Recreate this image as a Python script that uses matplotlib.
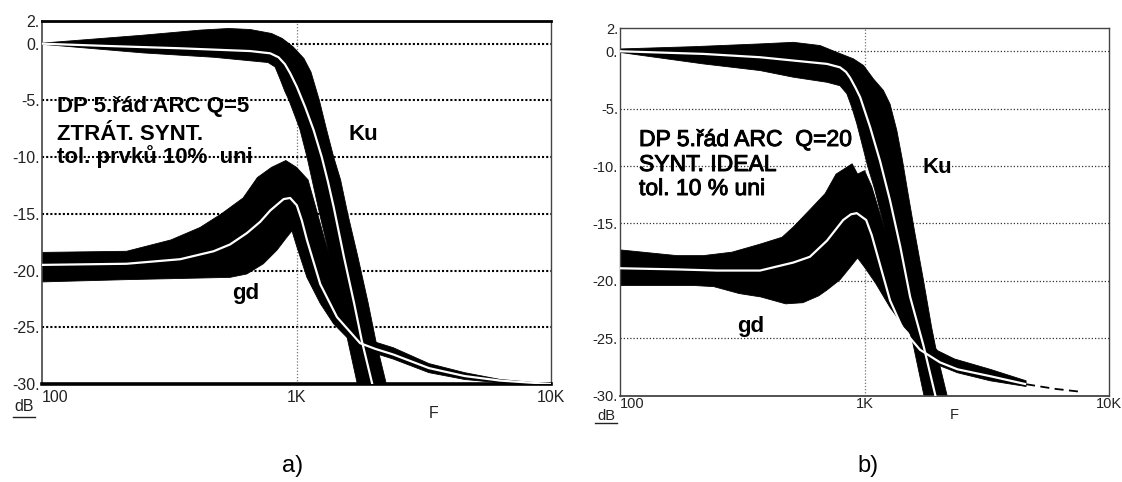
"""
Monte Carlo tolerance analysis of a 5th-order ARC low-pass (DP 5.řád):
magnitude Ku and group delay gd bands for two syntheses, panels a) and b).
Bands are drawn as filled envelopes read off the scan, white = nominal.
"""

import numpy as np
import matplotlib
matplotlib.use("Agg")
import matplotlib.pyplot as plt
from matplotlib import patheffects
from matplotlib.lines import Line2D

W, H = 1122, 482
FONT = ["Liberation Sans", "DejaVu Sans"]

# ---------------- panel a)  Q=5, ztrát. synt. ----------------  (f [Hz], dB)
KU_A_UPPER = [(100, 0.05), (250, 0.75), (420, 1.2), (541, 1.34), (658, 1.25),
              (798, 0.9), (879, 0.46), (970, -0.28), (1069, -1.3), (1140, -2.5),
              (1230, -5.0), (1310, -7.5), (1400, -10.0), (1490, -12.0),
              (1590, -15.0), (1743, -18.8), (1914, -22.9), (2050, -26.2),
              (2254, -30.0), (2400, -32.5)]
KU_A_LOWER = [(100, -0.05), (249, -0.81), (475, -1.2), (773, -1.66), (824, -2.05),
              (865, -3.2), (900, -4.2), (935, -5.0), (1030, -7.5), (1100, -10.0),
              (1233, -15.0), (1352, -18.8), (1486, -22.9), (1592, -26.2),
              (1734, -30.0), (1790, -32.5)]
KU_A_NOM = [(100, 0.0), (180, -0.2), (344, -0.4), (658, -0.65), (789, -0.85),
            (850, -1.2), (900, -1.8), (944, -2.6), (1003, -3.8), (1082, -5.6),
            (1167, -7.6), (1257, -10.0), (1330, -12.2), (1400, -14.4),
            (1536, -18.8), (1685, -22.9), (1806, -26.2), (1985, -30.0),
            (2080, -32.5)]
GD_A_UPPER = [(100, -18.4), (215, -18.3), (321, -17.3), (418, -16.2), (507, -15.0),
              (617, -13.6), (702, -11.8), (798, -10.9), (908, -10.3), (1000, -10.9),
              (1110, -12.0), (1300, -17.5), (1550, -23.0), (1800, -25.8),
              (2037, -26.3), (2400, -26.8), (3315, -28.2), (4580, -29.0),
              (6310, -29.6), (10000, -30.0)]
GD_A_LOWER = [(100, -21.0), (215, -20.8), (548, -20.6), (638, -20.3), (741, -19.4),
              (838, -18.2), (917, -17.05), (960, -16.5), (1003, -17.9),
              (1099, -20.6), (1240, -22.9), (1400, -24.7), (1580, -25.9),
              (1723, -26.6), (2037, -27.3), (2400, -27.8), (3315, -29.0),
              (4580, -29.6), (6310, -29.9), (10000, -30.1)]
GD_A_NOM = [(100, -19.5), (215, -19.4), (349, -19.0), (472, -18.3), (548, -17.7),
            (638, -16.7), (720, -15.7), (789, -14.7), (890, -13.7), (944, -13.6),
            (1003, -14.25), (1050, -15.6), (1099, -17.3), (1240, -21.2),
            (1442, -24.1), (1778, -26.4), (2037, -26.9), (2400, -27.4),
            (3315, -28.6), (4580, -29.3), (6310, -29.7), (10000, -30.0)]

# ---------------- panel b)  Q=20, synt. ideal ----------------
KU_B_UPPER = [(100, 0.2), (200, 0.4), (374, 0.64), (512, 0.78), (658, 0.5),
              (770, -0.09), (901, -0.66), (991, -1.24), (1087, -2.4), (1194, -3.4),
              (1272, -4.6), (1356, -6.9), (1430, -9.5), (1510, -12.5),
              (1600, -15.6), (1741, -19.9), (1880, -24.0), (1976, -26.3),
              (2178, -30.0), (2300, -32.5)]
KU_B_LOWER = [(100, -0.1), (219, -1.1), (374, -1.68), (512, -2.26), (702, -2.7),
              (794, -3.0), (847, -3.7), (888, -4.9), (930, -6.3), (975, -8.0),
              (1030, -10.0), (1100, -12.0), (1262, -17.0), (1382, -21.4),
              (1576, -25.4), (1751, -30.0), (1850, -32.5)]
KU_B_NOM = [(100, 0.0), (219, -0.23), (374, -0.52), (512, -0.81), (702, -1.1),
            (794, -1.4), (840, -1.8), (873, -2.3), (920, -3.2), (960, -4.0),
            (1054, -6.6), (1159, -9.6), (1272, -13.0), (1400, -17.0),
            (1537, -21.4), (1741, -25.6), (1950, -30.0), (2100, -32.5)]
GD_B_UPPER = [(100, -17.3), (171, -17.8), (219, -17.8), (287, -17.5), (374, -16.8),
              (460, -16.2), (512, -15.3), (598, -13.8), (690, -12.4), (765, -10.7),
              (847, -10.1), (890, -9.8), (937, -10.7), (1000, -10.4), (1071, -11.8),
              (1250, -16.5), (1500, -22.0), (1750, -25.0), (2000, -26.1),
              (2334, -26.8), (3265, -27.7), (4580, -28.7)]
GD_B_LOWER = [(100, -20.4), (200, -20.4), (242, -20.5), (307, -21.1), (377, -21.4),
              (476, -22.0), (560, -21.9), (650, -21.3), (702, -20.8), (794, -19.9),
              (875, -18.8), (937, -18.0), (1000, -18.8), (1110, -20.2),
              (1271, -22.3), (1452, -24.0), (1663, -25.4), (1837, -26.3),
              (2037, -27.4), (2400, -28.0), (3265, -28.7), (4580, -29.2)]
GD_B_NOM = [(100, -18.9), (171, -19.0), (249, -19.1), (374, -19.1), (512, -18.4),
            (598, -17.9), (702, -16.5), (818, -14.7), (880, -14.2), (930, -14.1),
            (1016, -14.7), (1070, -16.0), (1123, -17.6), (1272, -21.7),
            (1443, -24.3), (1687, -26.0), (2037, -27.1), (2400, -27.7),
            (3265, -28.3), (4580, -29.0)]
GD_B_DASH = [(4580, -29.0), (6000, -29.4), (7600, -29.65)]

Y_TICKS = [2, 0, -5, -10, -15, -20, -25, -30]
Y_TICK_LABELS = ["2.", "0.", "-5.", "-10.", "-15.", "-20.", "-25.", "-30."]
X_TICKS = [100, 1000, 10000]
X_TICK_LABELS = ["100", "1K", "10K"]
GRID_DB = [0, -5, -10, -15, -20, -25]

TEXT_A = ["DP 5.řád ARC Q=5", "ZTRÁT. SYNT.", "tol. prvků 10%  uni"]
TEXT_B = ["DP 5.řád ARC  Q=20", "SYNT. IDEAL", "tol. 10 % uni"]


def fpos(x, y):
    """pixel position (from top-left) -> figure fraction"""
    return x / W, 1 - y / H


def band(ax, upper, lower):
    pts = np.array(upper + lower[::-1])
    ax.fill(pts[:, 0], pts[:, 1], color="black", ec="black", lw=0.6, zorder=2)


def nominal(ax, pts):
    pts = np.array(pts)
    ax.plot(pts[:, 0], pts[:, 1], color="white", lw=1.6, zorder=3,
            solid_capstyle="butt")


def setup(ax, grid_lw, grid_dash, grid_color, tick_size, xpad, spine_lw):
    ax.set_xscale("log")
    ax.set_xlim(100, 10000)
    ax.set_ylim(-30, 2)
    ax.set_yticks(Y_TICKS, Y_TICK_LABELS)
    ax.set_xticks(X_TICKS, X_TICK_LABELS)
    ax.minorticks_off()
    ax.tick_params(axis="both", length=0, labelsize=tick_size, colors="#222")
    ax.tick_params(axis="y", pad=1.5)
    ax.tick_params(axis="x", pad=xpad)
    for lab in ax.get_xticklabels() + ax.get_yticklabels():
        lab.set_family(FONT)
    ax.get_xticklabels()[0].set_horizontalalignment("left")
    for y in GRID_DB:
        ax.axhline(y, color=grid_color, lw=grid_lw, ls=(0, grid_dash), zorder=1)
    ax.axvline(1000, color="#777", lw=0.9, ls=(0, (1, 1.5)), zorder=1)
    for side, lw in spine_lw.items():
        ax.spines[side].set_linewidth(lw)
        ax.spines[side].set_color("black" if lw > 1.5 else "#444")


fig = plt.figure(figsize=(W / 100, H / 100), dpi=100)
ax_a = fig.add_axes([42 / W, 1 - 384 / H, 509 / W, 363 / H])
ax_b = fig.add_axes([620 / W, 1 - 395.7 / H, 489 / W, 367.4 / H])

setup(ax_a, 1.5, (1, 1), "black", 11.5, 4.5,
      {"top": 2.0, "bottom": 2.6, "left": 1.2, "right": 1.0})
setup(ax_b, 0.9, (1, 1.6), "#333", 10.5, 1.0,
      {"top": 1.0, "bottom": 1.3, "left": 1.0, "right": 1.0})

band(ax_a, GD_A_UPPER, GD_A_LOWER)
band(ax_a, KU_A_UPPER, KU_A_LOWER)
nominal(ax_a, GD_A_NOM)
nominal(ax_a, KU_A_NOM)

band(ax_b, GD_B_UPPER, GD_B_LOWER)
band(ax_b, KU_B_UPPER, KU_B_LOWER)
nominal(ax_b, GD_B_NOM)
nominal(ax_b, KU_B_NOM)
dash = np.array(GD_B_DASH)
ax_b.plot(dash[:, 0], dash[:, 1], color="black", lw=1.3, ls=(0, (5, 3)), zorder=2)

# annotations
for txt, y in zip(TEXT_A, [111.7, 140, 163.3]):
    fig.text(*fpos(57, y), txt, family=FONT, fontsize=16, fontweight="bold",
             va="baseline", ha="left", zorder=5)
fig.text(*fpos(348, 140), "Ku", family=FONT, fontsize=16, fontweight="bold",
         va="baseline")
fig.text(*fpos(232, 299), "gd", family=FONT, fontsize=16, fontweight="bold",
         va="baseline")

medium = [patheffects.withStroke(linewidth=0.7, foreground="black")]
for txt, y in zip(TEXT_B, [146, 171, 195]):
    fig.text(*fpos(639, y), txt, family=FONT, fontsize=16.5, va="baseline",
             ha="left", path_effects=medium, zorder=5)
fig.text(*fpos(922, 173.3), "Ku", family=FONT, fontsize=16, fontweight="bold",
         va="baseline")
fig.text(*fpos(737, 331.7), "gd", family=FONT, fontsize=16, fontweight="bold",
         va="baseline")

# axis names: F and underlined dB
for x, y, s in [(434, 413, 11.5), (954, 415, 10.5)]:
    fig.text(*fpos(x, y), "F", family=FONT, fontsize=s, color="#222",
             ha="center", va="center")
for x, y, uy, s in [(24, 406.5, 417, 11.5), (606, 416.5, 422.7, 10.5)]:
    fig.text(*fpos(x, y), "dB", family=FONT, fontsize=s, color="#222",
             ha="center", va="center")
    fig.add_artist(Line2D([(x - 11) / W, (x + 11) / W], [1 - uy / H] * 2,
                          transform=fig.transFigure, color="#222", lw=1.0))

fig.text(*fpos(293, 466), "a)", family=FONT, fontsize=17, ha="center", va="center")
fig.text(*fpos(868, 466), "b)", family=FONT, fontsize=17, ha="center", va="center")

fig.savefig("out.png", dpi=100)
